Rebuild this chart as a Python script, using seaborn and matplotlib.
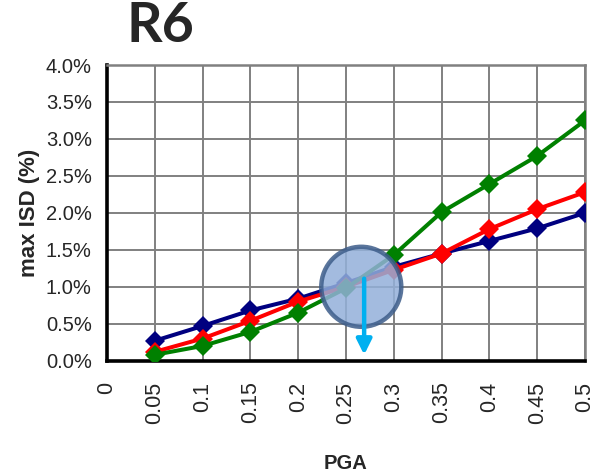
import numpy as np
import pandas as pd
import matplotlib
matplotlib.use("Agg")
import matplotlib.pyplot as plt
from matplotlib.patches import Circle
from matplotlib.ticker import FuncFormatter
from matplotlib.transforms import IdentityTransform
import seaborn as sns

# Peak ground acceleration levels and max inter-storey drift (%) per case
pga = [0.05, 0.10, 0.15, 0.20, 0.25, 0.30, 0.35, 0.40, 0.45, 0.50]
isd_blue = [0.27, 0.47, 0.68, 0.84, 1.05, 1.27, 1.45, 1.62, 1.79, 2.00]
isd_red = [0.12, 0.30, 0.54, 0.80, 1.00, 1.23, 1.45, 1.78, 2.05, 2.28]
isd_green = [0.08, 0.20, 0.39, 0.65, 0.98, 1.43, 2.01, 2.39, 2.77, 3.25]
series_names = ["A", "B", "C"]
series_colors = ["#000080", "#ff0000", "#008000"]

x_ticks = [0, 0.05, 0.1, 0.15, 0.2, 0.25, 0.3, 0.35, 0.4, 0.45, 0.5]
x_tick_labels = ["0", "0.05", "0.1", "0.15", "0.2", "0.25", "0.3", "0.35", "0.4", "0.45", "0.5"]
y_ticks = [0.0, 0.5, 1.0, 1.5, 2.0, 2.5, 3.0, 3.5, 4.0]

# Marked crossing point and drop-down arrow
cross_pga = 0.266
cross_isd = 1.0
arrow_pga = 0.269
arrow_top = 1.11
arrow_bottom = 0.08

df = pd.DataFrame({
    "PGA": pga * 3,
    "ISD": isd_blue + isd_red + isd_green,
    "case": [n for n in series_names for _ in pga],
})

sns.set_style("white")
plt.rcParams["font.family"] = ["Liberation Sans", "DejaVu Sans"]

fig = plt.figure(figsize=(5.96, 4.76), dpi=100)
ax = fig.add_axes([0.1795, 0.2422, 0.8020, 0.6212])

sns.lineplot(
    data=df, x="PGA", y="ISD", hue="case", style="case",
    palette=series_colors, markers=["D", "D", "D"], dashes=False,
    linewidth=2.9, markersize=10.5, markeredgewidth=0, legend=False, ax=ax,
    zorder=3,
)

ax.set_xlim(0, 0.5)
ax.set_ylim(0, 4.0)
ax.set_xticks(x_ticks)
ax.set_xticklabels(x_tick_labels, rotation=90, fontsize=15.5)
ax.set_yticks(y_ticks)
ax.yaxis.set_major_formatter(FuncFormatter(lambda v, _: f"{v:.1f}%"))
ax.tick_params(axis="y", labelsize=14.5, pad=6)
ax.tick_params(axis="x", pad=10)

ax.grid(True, color="#808080", linewidth=1.4)
ax.set_axisbelow(True)
for side in ("top", "right"):
    ax.spines[side].set_color("#808080")
    ax.spines[side].set_linewidth(1.8)
for side in ("left", "bottom"):
    ax.spines[side].set_color("black")
    ax.spines[side].set_linewidth(2.6)
ax.tick_params(axis="both", which="major", direction="out", length=5,
               width=2.2, color="black")
for lab in ax.get_xticklabels():
    lab.set_va("top")

ax.set_xlabel("PGA", fontsize=14.5, fontweight="bold", labelpad=22)
ax.set_ylabel("max ISD (%)", fontsize=16, fontweight="bold", labelpad=4)

# Highlight circle with a fixed pixel radius, centred on the crossing point
fig.canvas.draw()
cx, cy = ax.transData.transform((cross_pga, cross_isd))
circle = Circle((cx, cy), radius=40, transform=IdentityTransform(),
                facecolor="#93b0da", alpha=0.85, edgecolor="#3d5d8a",
                linewidth=3.2, zorder=5)
ax.add_artist(circle)

ax.annotate(
    "", xy=(arrow_pga, arrow_bottom), xytext=(arrow_pga, arrow_top),
    arrowprops=dict(arrowstyle="-|>,head_width=0.45,head_length=0.9",
                    color="#00b0f0", linewidth=3.2, shrinkA=0, shrinkB=0),
    zorder=6,
)

fig.text(0.270, 0.912, "R6", fontsize=40, fontweight="bold",
         family=["Lato", "DejaVu Sans"], color="#262626",
         ha="center", va="baseline")

fig.savefig("out.png", dpi=100)
